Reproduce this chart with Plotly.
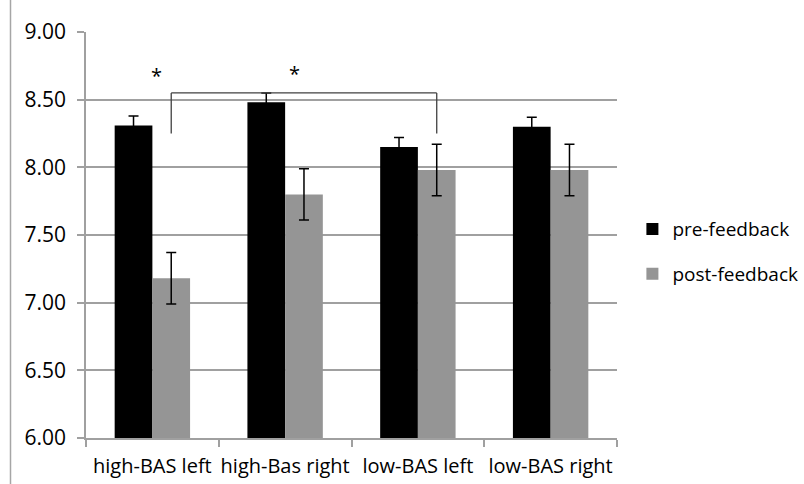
import plotly.graph_objects as go

categories = ["high-BAS left", "high-Bas right", "low-BAS left", "low-BAS right"]
pre_feedback = [8.31, 8.48, 8.15, 8.30]
pre_err = [0.07, 0.07, 0.07, 0.07]
post_feedback = [7.18, 7.80, 7.98, 7.98]
post_err = [0.19, 0.19, 0.19, 0.19]
y_ticks = [6.0, 6.5, 7.0, 7.5, 8.0, 8.5, 9.0]

FONT = "Open Sans"
BARGAP = 0.432
bar_w = (1 - BARGAP) / 2

fig = go.Figure()
fig.add_trace(go.Bar(
    x=categories, y=pre_feedback, name="pre-feedback",
    marker=dict(color="#000000", line=dict(width=0)),
    error_y=dict(type="data", array=pre_err, color="#000000", thickness=1.5, width=5),
    legendgroup="a",
))
fig.add_trace(go.Bar(
    x=categories, y=post_feedback, name="post-feedback",
    marker=dict(color="#959595", line=dict(width=0)),
    error_y=dict(type="data", array=post_err, color="#000000", thickness=1.5, width=5),
    legendgroup="b",
))

# significance bracket between high-BAS left post and low-BAS left post
x0 = 0 + bar_w / 2
x1 = 2 + bar_w / 2
y_top = 8.55
y_low = 8.25
for (xa, ya, xb, yb) in [(x0, y_low, x0, y_top), (x0, y_top, x1, y_top), (x1, y_top, x1, y_low)]:
    fig.add_shape(type="line", xref="x", yref="y", x0=xa, y0=ya, x1=xb, y1=yb,
                  line=dict(color="#404040", width=1.3))

fig.add_annotation(x=0.03, y=8.68, xref="x", yref="y", text="*", showarrow=False,
                   font=dict(family=FONT, size=20, color="#000000"))
fig.add_annotation(x=1.07, y=8.69, xref="x", yref="y", text="*", showarrow=False,
                   font=dict(family=FONT, size=20, color="#000000"))

# left frame line
fig.add_shape(type="line", xref="paper", yref="paper",
              x0=(10.5 - 86) / 531, x1=(10.5 - 86) / 531, y0=-46 / 406, y1=1 + 32 / 406,
              line=dict(color="#a6a6a6", width=1.5))

fig.update_layout(
    width=804, height=484,
    margin=dict(l=86, r=187, t=32, b=46, autoexpand=False),
    paper_bgcolor="white", plot_bgcolor="white",
    barmode="group", bargap=BARGAP, bargroupgap=0,
    font=dict(family=FONT, size=19, color="#000000"),
    legend=dict(x=1.029, y=0.459, xanchor="left", yanchor="middle",
                font=dict(family=FONT, size=19), tracegroupgap=17,
                traceorder="grouped", bgcolor="rgba(0,0,0,0)"),
    showlegend=True,
)
fig.update_xaxes(
    type="category", showgrid=False, showline=True, linecolor="#a0a0a0", linewidth=1.5,
    ticks="outside", tickson="boundaries", ticklen=7, tickcolor="#a0a0a0", tickwidth=1.5,
    tickfont=dict(family=FONT, size=20), range=[-0.5, 3.5], tickangle=0, automargin=False,
    ticklabelstandoff=9,
)
fig.update_yaxes(
    range=[6.0, 9.0], tickvals=y_ticks, ticktext=[f"{v:.2f}" for v in y_ticks],
    showgrid=True, gridcolor="#a0a0a0", gridwidth=1.5,
    showline=True, linecolor="#a0a0a0", linewidth=1.5,
    ticks="outside", ticklen=7, tickcolor="#a0a0a0", tickwidth=1.5,
    ticklabelstandoff=7, zeroline=False, automargin=False,
    tickfont=dict(family=FONT, size=21),
)

fig.write_html("out.html")
